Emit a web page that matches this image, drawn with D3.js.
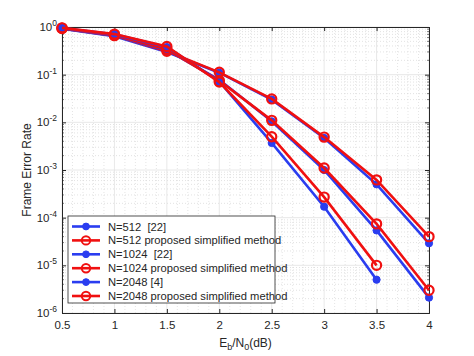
<!DOCTYPE html>
<html><head><meta charset="utf-8">
<script src="https://cdn.jsdelivr.net/npm/d3@7"></script>
<style>body{margin:0;background:#fff;font-family:"Liberation Sans",Arial,sans-serif;}</style>
</head><body>
<svg id="c" width="474" height="356"></svg>
<script>
const snr = [0.5, 1, 1.5, 2, 2.5, 3, 3.5, 4];
const snr2048 = [0.5, 1, 1.5, 2, 2.5, 3, 3.5];
const n512ref = [0.92, 0.64, 0.30, 0.110, 0.030, 4.7e-3, 5.0e-4, 2.9e-5];
const n512prop = [0.93, 0.66, 0.31, 0.112, 0.031, 4.9e-3, 6.2e-4, 4.0e-5];
const n1024ref = [0.93, 0.66, 0.33, 0.078, 0.0105, 1.0e-3, 5.4e-5, 2.1e-6];
const n1024prop = [0.94, 0.67, 0.34, 0.075, 0.0110, 1.1e-3, 7.4e-5, 3.0e-6];
const n2048ref = [0.95, 0.70, 0.38, 0.072, 3.7e-3, 1.7e-4, 5.0e-6];
const n2048prop = [0.96, 0.71, 0.39, 0.070, 5.0e-3, 2.7e-4, 1.0e-5];
const labels = ["N=512  [22]", "N=512 proposed simplified method", "N=1024  [22]", "N=1024 proposed simplified method", "N=2048 [4]", "N=2048 proposed simplified method"];
const xTicks = [0.5, 1, 1.5, 2, 2.5, 3, 3.5, 4];
const yExps = [0, -1, -2, -3, -4, -5, -6];

const series = [
  {x: snr, y: n512ref, kind: "ref"},
  {x: snr, y: n512prop, kind: "prop"},
  {x: snr, y: n1024ref, kind: "ref"},
  {x: snr, y: n1024prop, kind: "prop"},
  {x: snr2048, y: n2048ref, kind: "ref"},
  {x: snr2048, y: n2048prop, kind: "prop"}
];
const BLUE = "#2a3df0", RED = "#f01010";

const svg = d3.select("#c");
const L = 62, R = 429, T = 27, B = 313;
const x = d3.scaleLinear().domain([0.5, 4]).range([L, R]);
const y = d3.scaleLog().domain([1e-6, 1]).range([B, T]);

const g = svg.append("g");
// minor grid
const minorX = d3.range(0.5, 4.0001, 0.1).filter(v => Math.abs(v*2 - Math.round(v*2)) > 1e-6);
g.selectAll(".mgx").data(minorX).enter().append("line")
  .attr("x1", d => x(d)).attr("x2", d => x(d)).attr("y1", T).attr("y2", B)
  .attr("stroke", "#d4d4d4").attr("stroke-width", 0.6).attr("stroke-dasharray", "1,2");
const minorY = [];
for (let e = -6; e < 0; e++) for (let k = 2; k <= 9; k++) minorY.push(k * Math.pow(10, e));
g.selectAll(".mgy").data(minorY).enter().append("line")
  .attr("x1", L).attr("x2", R).attr("y1", d => y(d)).attr("y2", d => y(d))
  .attr("stroke", "#cfcfcf").attr("stroke-width", 0.6).attr("stroke-dasharray", "1,2");
// major grid
g.selectAll(".gx").data(xTicks).enter().append("line")
  .attr("x1", d => x(d)).attr("x2", d => x(d)).attr("y1", T).attr("y2", B)
  .attr("stroke", "#e2e2e2").attr("stroke-width", 0.8);
g.selectAll(".gy").data(yExps).enter().append("line")
  .attr("x1", L).attr("x2", R).attr("y1", d => y(Math.pow(10, d))).attr("y2", d => y(Math.pow(10, d)))
  .attr("stroke", "#e2e2e2").attr("stroke-width", 0.8);

// axes
const axColor = "#262626";
const xAxis = d3.axisBottom(x).tickValues(xTicks).tickSize(-4).tickPadding(8).tickFormat(d3.format("~g"));
const gx = svg.append("g").attr("transform", `translate(0,${B})`).call(xAxis);
const xTop = svg.append("g").attr("transform", `translate(0,${T})`).call(d3.axisTop(x).tickValues(xTicks).tickSize(-4).tickFormat(""));
const yAxis = d3.axisLeft(y).tickValues(yExps.map(e => Math.pow(10, e))).tickSize(-4).tickPadding(5).tickFormat("");
const gy = svg.append("g").attr("transform", `translate(${L},0)`).call(yAxis);
const yR = svg.append("g").attr("transform", `translate(${R},0)`).call(d3.axisRight(y).tickValues(yExps.map(e => Math.pow(10, e))).tickSize(-4).tickFormat(""));
// minor y ticks
[[L, 1], [R, -1]].forEach(([px, dir]) => {
  svg.append("g").selectAll("line").data(minorY).enter().append("line")
    .attr("x1", px).attr("x2", px + 2 * dir).attr("y1", d => y(d)).attr("y2", d => y(d))
    .attr("stroke", axColor).attr("stroke-width", 0.6);
});
[gx, xTop, gy, yR].forEach(a => {
  a.selectAll("path,line").attr("stroke", axColor);
  a.select(".domain").attr("stroke-width", 1);
});
gx.selectAll("text").attr("font-size", 11.5).attr("fill", axColor).attr("font-family", "Liberation Sans, Arial, sans-serif");

// y tick labels with superscripts
const yl = svg.append("g");
yExps.forEach(e => {
  const t = yl.append("text").attr("x", 57).attr("y", y(Math.pow(10, e)) + 4)
    .attr("text-anchor", "end").attr("font-size", 11.5).attr("fill", axColor);
  t.append("tspan").text("10");
  t.append("tspan").attr("dy", -5).attr("font-size", 8.5).text(String(e));
});

// axis titles
const xt = svg.append("text").attr("x", (L + R) / 2).attr("y", 347).attr("text-anchor", "middle")
  .attr("font-size", 12).attr("fill", axColor);
xt.append("tspan").text("E");
xt.append("tspan").attr("dy", 3).attr("font-size", 9).text("b");
xt.append("tspan").attr("dy", -3).text("/N");
xt.append("tspan").attr("dy", 3).attr("font-size", 9).text("0");
xt.append("tspan").attr("dy", -3).text("(dB)");
svg.append("text").attr("transform", `translate(31,${(T + B) / 2}) rotate(-90)`)
  .attr("text-anchor", "middle").attr("font-size", 12).attr("fill", axColor).text("Frame Error Rate");

// data
const line = d3.line().x(d => x(d[0])).y(d => y(d[1]));
const plot = svg.append("g");
series.forEach(s => {
  const pts = s.x.map((v, i) => [v, s.y[i]]);
  const col = s.kind === "ref" ? BLUE : RED;
  plot.append("path").datum(pts).attr("d", line).attr("fill", "none")
    .attr("stroke", col).attr("stroke-width", 2.6);
  plot.selectAll(null).data(pts).enter().append("circle")
    .attr("cx", d => x(d[0])).attr("cy", d => y(d[1]))
    .attr("r", s.kind === "ref" ? 3.6 : 4.6)
    .attr("fill", s.kind === "ref" ? BLUE : "none")
    .attr("stroke", col).attr("stroke-width", s.kind === "ref" ? 1 : 2.2);
});

// legend
const lg = svg.append("g");
const lx = 68, ly = 216, lw = 207, lh = 87;
lg.append("rect").attr("x", lx).attr("y", ly).attr("width", lw).attr("height", lh)
  .attr("fill", "#fff").attr("stroke", axColor).attr("stroke-width", 0.8);
labels.forEach((lab, i) => {
  const cy = ly + 10.5 + i * 13.9;
  const s = series[i];
  const col = s.kind === "ref" ? BLUE : RED;
  lg.append("line").attr("x1", 72).attr("x2", 100).attr("y1", cy).attr("y2", cy)
    .attr("stroke", col).attr("stroke-width", 2.6);
  lg.append("circle").attr("cx", 86).attr("cy", cy).attr("r", s.kind === "ref" ? 3.4 : 4.2)
    .attr("fill", s.kind === "ref" ? BLUE : "none").attr("stroke", col)
    .attr("stroke-width", s.kind === "ref" ? 1 : 2);
  lg.append("text").attr("x", 108).attr("y", cy + 4).attr("font-size", 11.2)
    .attr("fill", axColor).attr("xml:space", "preserve").style("white-space", "pre").text(lab);
});
</script>
</body></html>
